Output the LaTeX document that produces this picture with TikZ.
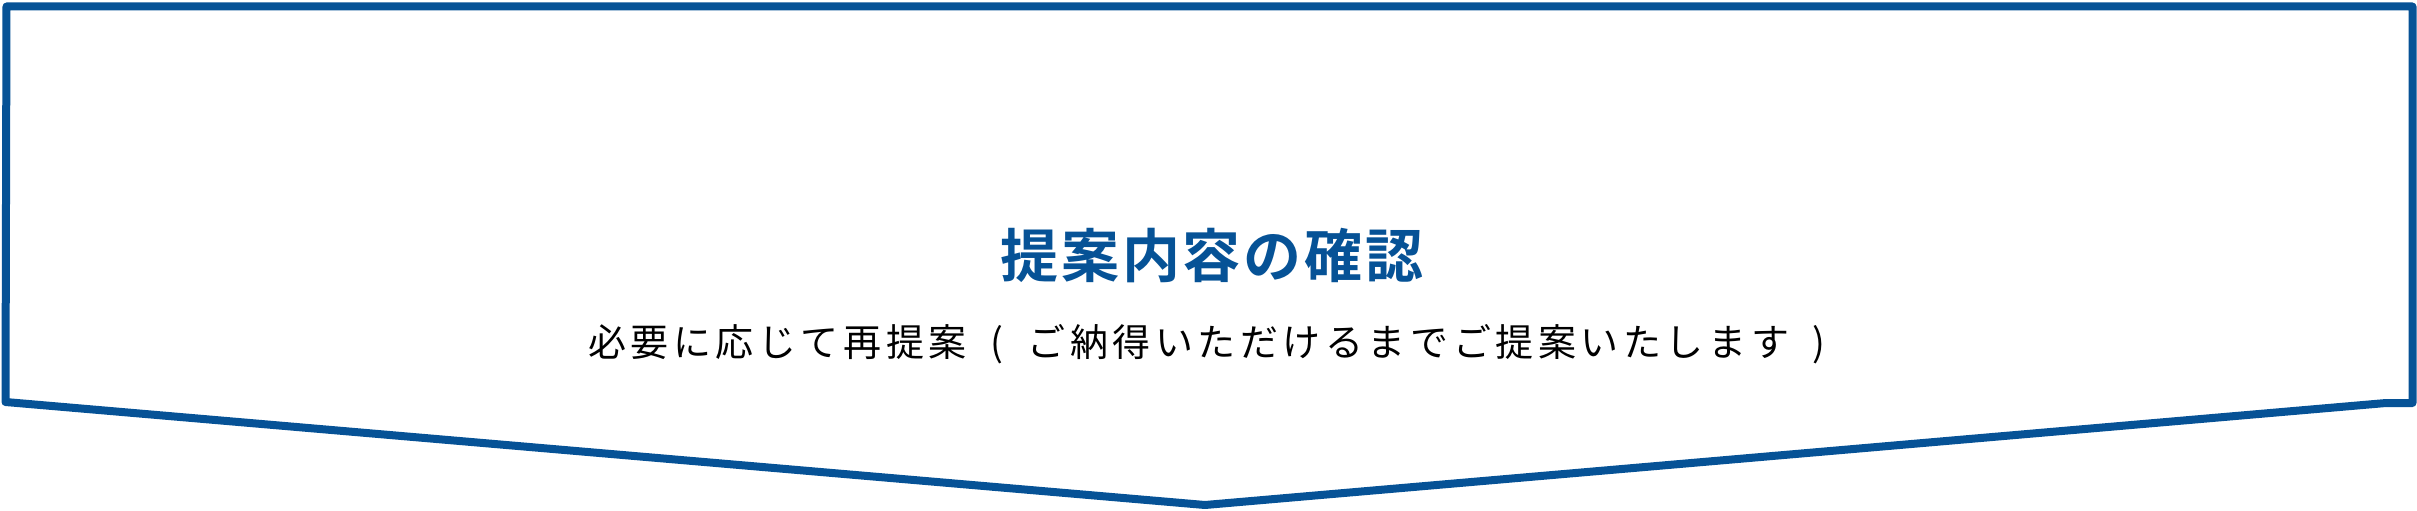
\documentclass[tikz,border=0pt]{standalone}
\usepackage{fontspec}
\newfontfamily\jpreg[LetterSpace=12]{Noto Sans CJK JP}
\newfontfamily\jpboldsp[LetterSpace=5]{Noto Sans CJK JP Bold}
\definecolor{frameblue}{RGB}{6,82,150}
\newcommand\pgap{\hspace{24pt}}
\tikzset{
  frameline/.style={draw=frameblue, line width=8pt, line join=round, line cap=round},
  titletext/.style={text=frameblue, font=\jpboldsp\fontsize{58}{60}\selectfont, inner sep=0pt},
  subtext/.style={text=black, font=\jpreg\fontsize{38}{40}\selectfont, inner sep=0pt}
}
\begin{document}
\begin{tikzpicture}[x=1pt,y=-1pt]
\useasboundingbox (0,0) rectangle (2417,511);
\coordinate (tl) at (6.5,6.5);
\coordinate (tr) at (2412.5,6.5);
\coordinate (br) at (2412.5,403);
\coordinate (brin) at (2386,403);
\coordinate (apex) at (1205,505);
\coordinate (bl) at (5.5,402);
\draw[frameline] (tl) -- (tr) -- (br) -- (brin) -- (apex) -- (bl) -- cycle;
\node[titletext] (title) at (1212,256) {提案内容の確認};
\node[subtext] (sub) at (1207,344) {必要に応じて再提案\pgap(\pgap ご納得いただけるまでご提案いたします\pgap)};
\end{tikzpicture}
\end{document}
